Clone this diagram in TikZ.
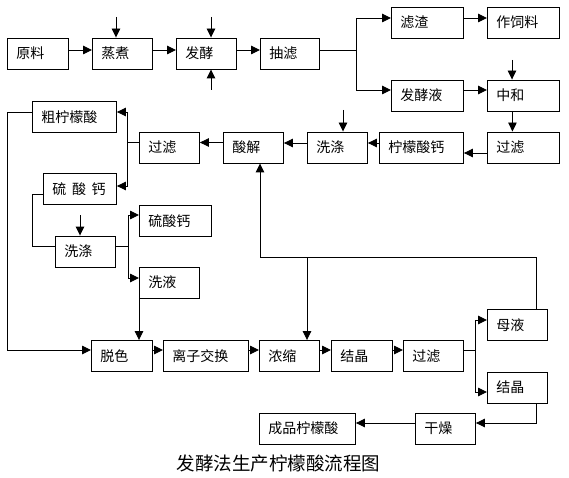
\documentclass[tikz,border=0pt]{standalone}
\usepackage{fontspec}
\setmainfont{Noto Sans CJK SC}
\usetikzlibrary{arrows.meta}
\begin{document}
\begin{tikzpicture}[x=1pt,y=-1pt,
  box/.style={draw, line width=0.9pt, minimum height=31pt, inner xsep=9pt, inner ysep=0pt,
    align=left, text width=#1, anchor=west, font=\fontsize{14}{16}\selectfont},
  ln/.style={line width=0.9pt},
  arr/.style={ln, -{Triangle[length=9pt,width=8.5pt]}}]
\useasboundingbox (0,0) rectangle (569,478);
% top row
\node[box=43pt] (yl) at (7,53.5) {原料};
\node[box=42pt] (zz) at (92,53.5) {蒸煮};
\node[box=42pt] (fj) at (176,53.5) {发酵};
\node[box=41pt] (cl) at (260,53.5) {抽滤};
\node[box=54pt] (lz) at (391,22.5) {滤渣};
\node[box=54pt] (zsl) at (487,22.5) {作饲料};
\node[box=54pt] (fjy) at (391,95.5) {发酵液};
\node[box=54pt] (zh) at (487,95.5) {中和};
% second row
\node[box=54pt] (gl1) at (487,147.5) {过滤};
\node[box=66pt] (nmsg) at (379,147.5) {柠檬酸钙};
\node[box=42pt] (xd1) at (307,147.5) {洗涤};
\node[box=42pt] (sj) at (223,147.5) {酸解};
\node[box=42pt] (gl2) at (139,147.5) {过滤};
% left column
\node[box=66pt] (cn) at (32,117) {粗柠檬酸};
\node[box=55pt] (lsg1) at (43,189) {硫\hspace{0.4em}酸\hspace{0.4em}钙};
\node[box=42pt] (xd2) at (55,251.5) {洗涤};
\node[box=54pt] (lsg2) at (139,221) {硫酸钙};
\node[box=42pt] (xy) at (139,282.5) {洗液};
% bottom row
\node[box=43pt] (ts) at (91,356) {脱色};
\node[box=67pt] (lzjh) at (163,356) {离子交换};
\node[box=42pt] (ns) at (259,356) {浓缩};
\node[box=43pt] (jj1) at (331,356) {结晶};
\node[box=42pt] (gl3) at (403,356) {过滤};
\node[box=42pt] (my) at (487,325) {母液};
\node[box=42pt] (jj2) at (487,387.5) {结晶};
\node[box=42pt] (gz) at (415,428.5) {干燥};
\node[box=78pt] (cp) at (259,428.5) {成品柠檬酸};
\node[font=\fontsize{18.5}{20}\selectfont, inner sep=0pt] (title) at (278.5,463) {发酵法生产柠檬酸流程图};
% free ends and junctions
\coordinate (in1) at (116,17);
\coordinate (in2) at (211,17);
\coordinate (in3) at (211,90);
\coordinate (in4) at (512,60);
\coordinate (in5) at (343,110);
\coordinate (in6) at (80,215);
\coordinate (j1) at (356,50);
\coordinate (j2) at (127,142.5);
\coordinate (j3) at (7,112);
\coordinate (j4) at (32,194);
\coordinate (j5) at (128,246);
\coordinate (j6) at (475,350);
\coordinate (ret) at (260,257);
\coordinate (brn) at (307,257);
% top row connectors
\draw[arr] ([yshift=3.5pt]yl.east) -- ([yshift=3.5pt]zz.west);
\draw[arr] ([yshift=3.5pt]zz.east) -- ([yshift=3.5pt]fj.west);
\draw[arr] ([yshift=3.5pt]fj.east) -- ([yshift=3.5pt]cl.west);
\draw[arr] (in1) -- (in1 |- zz.north);
\draw[arr] (in2) -- (in2 |- fj.north);
\draw[arr] (in3) -- (in3 |- fj.south);
\draw[arr] ([yshift=3.5pt]cl.east) -- (j1) |- ([yshift=4.5pt]lz.west);
\draw[arr] (j1) |- ([yshift=5.5pt]fjy.west);
\draw[arr] ([yshift=4.5pt]lz.east) -- ([yshift=4.5pt]zsl.west);
\draw[arr] ([yshift=5.5pt]fjy.east) -- ([yshift=5.5pt]zh.west);
\draw[arr] (in4) -- (in4 |- zh.north);
\draw[arr] ([xshift=-11pt]zh.south) -- ([xshift=-11pt]gl1.north);
% second row
\draw[arr] ([yshift=-5.5pt]gl1.west) -- ([yshift=-5.5pt]nmsg.east);
\draw[arr] ([yshift=4.5pt]nmsg.west) -- ([yshift=4.5pt]xd1.east);
\draw[arr] (in5) -- (in5 |- xd1.north);
\draw[arr] ([yshift=4.5pt]xd1.west) -- ([yshift=4.5pt]sj.east);
\draw[arr] ([yshift=5pt]sj.west) -- ([yshift=5pt]gl2.east);
\draw[ln] ([yshift=5pt]gl2.west) -- (j2);
\draw[arr] (j2) |- ([yshift=5pt]cn.east);
\draw[arr] (j2) |- ([yshift=3pt]lsg1.east);
% left column
\draw[arr] ([yshift=5pt]cn.west) -- (j3) |- ([yshift=6pt]ts.west);
\draw[ln] ([yshift=-5pt]lsg1.west) -- (j4) |- ([yshift=5.5pt]xd2.west);
\draw[arr] (in6) -- (in6 |- xd2.north);
\draw[ln] ([yshift=5.5pt]xd2.east) -- (j5);
\draw[arr] (j5) |- ([yshift=6pt]lsg2.west);
\draw[arr] (j5) |- ([yshift=4.5pt]xy.west);
\draw[arr] (xy.south west) -- (xy.south west |- ts.north);
% bottom row
\draw[arr] ([yshift=6pt]ts.east) -- ([yshift=6pt]lzjh.west);
\draw[arr] ([yshift=6pt]lzjh.east) -- ([yshift=6pt]ns.west);
\draw[arr] ([yshift=6pt]ns.east) -- ([yshift=6pt]jj1.west);
\draw[arr] ([yshift=6pt]jj1.east) -- ([yshift=6pt]gl3.west);
\draw[ln] ([yshift=6pt]gl3.east) -- (j6);
\draw[arr] (j6) |- ([yshift=5pt]my.west);
\draw[arr] (j6) |- ([yshift=-4.5pt]jj2.west);
\draw[arr] ([xshift=19pt]my.north) |- (ret) -- (ret |- sj.south);
\draw[arr] (brn) -- (brn |- ns.north);
\draw[arr] ([xshift=19pt]jj2.south) |- ([yshift=5.5pt]gz.east);
\draw[arr] ([yshift=5.5pt]gz.west) -- ([yshift=5.5pt]cp.east);
\end{tikzpicture}
\end{document}
